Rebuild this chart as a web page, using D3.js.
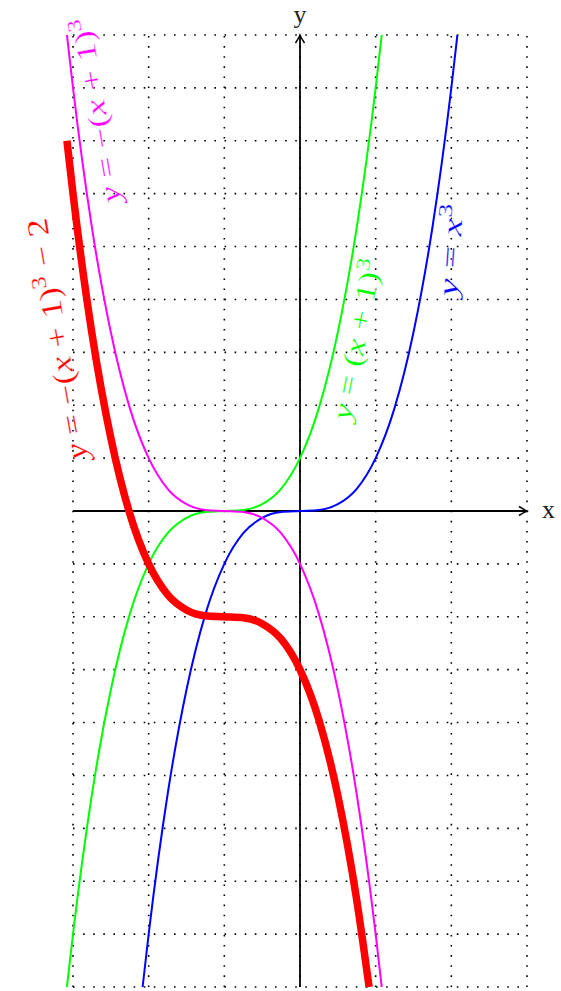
<!DOCTYPE html>
<html>
<head>
<meta charset="utf-8">
<script src="https://cdn.jsdelivr.net/npm/d3@7"></script>
<style>
  body { margin: 0; background: #fff; }
  svg { display: block; }
</style>
</head>
<body>
<div id="display"></div>
<script>
const w = 561;
const h = 991;

// grid lines (data units)
const xGrid = [-3, -2, -1, 0, 1, 2, 3];
const yGrid = [-9, -8, -7, -6, -5, -4, -3, -2, -1, 0, 1, 2, 3, 4, 5, 6, 7, 8, 9];

// y = x^3
const blueX = [-2.08, -2, -1.75, -1.5, -1.25, -1, -0.75, -0.5, -0.25, 0, 0.25, 0.5, 0.75, 1, 1.25, 1.5, 1.75, 2, 2.08];
const blueY = [-9, -8, -5.36, -3.38, -1.95, -1, -0.42, -0.13, -0.02, 0, 0.02, 0.13, 0.42, 1, 1.95, 3.38, 5.36, 8, 9];

// y = (x+1)^3
const greenX = [-3.08, -3, -2.75, -2.5, -2.25, -2, -1.75, -1.5, -1.25, -1, -0.75, -0.5, -0.25, 0, 0.25, 0.5, 0.75, 1, 1.08];
const greenY = [-9, -8, -5.36, -3.38, -1.95, -1, -0.42, -0.13, -0.02, 0, 0.02, 0.13, 0.42, 1, 1.95, 3.38, 5.36, 8, 9];

// y = -(x+1)^3
const magentaX = [-3.08, -3, -2.75, -2.5, -2.25, -2, -1.75, -1.5, -1.25, -1, -0.75, -0.5, -0.25, 0, 0.25, 0.5, 0.75, 1, 1.08];
const magentaY = [9, 8, 5.36, 3.38, 1.95, 1, 0.42, 0.13, 0.02, 0, -0.02, -0.13, -0.42, -1, -1.95, -3.38, -5.36, -8, -9];

// y = -(x+1)^3 - 2
const redX = [-3.08, -3, -2.75, -2.5, -2.25, -2, -1.75, -1.5, -1.25, -1, -0.75, -0.5, -0.25, 0, 0.25, 0.5, 0.75, 0.913];
const redY = [7, 6, 3.36, 1.38, -0.05, -1, -1.58, -1.87, -1.98, -2, -2.02, -2.13, -2.42, -3, -3.95, -5.38, -7.36, -9];

const series = [
    { xs: blueX, ys: blueY, color: '#0000ff', width: 2 },
    { xs: greenX, ys: greenY, color: '#00ff00', width: 2 },
    { xs: magentaX, ys: magentaY, color: '#ff00ff', width: 2 },
    { xs: redX, ys: redY, color: '#ff0000', width: 7.5 }
];

// curve labels: parts = [text, italic?, superscript?]
const labels = [
    { parts: [['y', 1], [' = '], ['x', 1], ['3', 0, 1]], color: '#0000ff', x: 2.114, y: 4.92, angle: -86, size: 28, len: 92 },
    { parts: [['y', 1], [' = ('], ['x', 1], [' + 1)'], ['3', 0, 1]], color: '#00ff00', x: 0.87, y: 3.21, angle: -79, size: 28, len: 163 },
    { parts: [['y', 1], [' = −('], ['x', 1], [' + 1)'], ['3', 0, 1]], color: '#ff00ff', x: -2.569, y: 7.6, angle: -99.5, size: 28, len: 187 },
    { parts: [['y', 1], [' = −('], ['x', 1], [' + 1)'], ['3', 0, 1], [' − 2']], color: '#ff0000', x: -3.08, y: 3.28, angle: -99.8, size: 30, len: 245 }
];

const xScale = d3.scaleLinear().domain([-3, 3]).range([73, 527]);
const yScale = d3.scaleLinear().domain([-9, 9]).range([987, 35]);

const viz = d3.select('#display').append('svg')
    .attr('width', w)
    .attr('height', h);

viz.append('rect').attr('width', w).attr('height', h).attr('fill', '#fff');

// dotted grid
const grid = viz.append('g')
    .attr('stroke', '#000')
    .attr('stroke-width', 1.6)
    .attr('stroke-dasharray', '1.6 8.5');

grid.selectAll('.vgrid')
    .data(xGrid)
    .enter()
    .append('line')
    .attr('class', 'vgrid')
    .attr('x1', (d) => xScale(d))
    .attr('x2', (d) => xScale(d))
    .attr('y1', yScale(-9))
    .attr('y2', yScale(9));

grid.selectAll('.hgrid')
    .data(yGrid)
    .enter()
    .append('line')
    .attr('class', 'hgrid')
    .attr('x1', xScale(-3))
    .attr('x2', xScale(3))
    .attr('y1', (d) => yScale(d))
    .attr('y2', (d) => yScale(d));

// axes with arrow heads
const axes = viz.append('g')
    .attr('stroke', '#000')
    .attr('stroke-width', 1.8)
    .attr('fill', 'none');

axes.append('line')
    .attr('x1', xScale(-3)).attr('y1', yScale(0))
    .attr('x2', xScale(3)).attr('y2', yScale(0));
axes.append('line')
    .attr('x1', xScale(0)).attr('y1', yScale(-9))
    .attr('x2', xScale(0)).attr('y2', yScale(9));

const arrowHead = 'M-8,-4.5 Q-2.5,-1 0,0 Q-2.5,1 -8,4.5';
axes.append('path')
    .attr('d', arrowHead)
    .attr('stroke-width', 1.5)
    .attr('transform', `translate(${xScale(3)},${yScale(0)})`);
axes.append('path')
    .attr('d', arrowHead)
    .attr('stroke-width', 1.5)
    .attr('transform', `translate(${xScale(0)},${yScale(9)}) rotate(-90)`);

viz.append('text')
    .attr('x', xScale(3) + 15)
    .attr('y', yScale(0) + 7)
    .style('font-family', "'Liberation Serif', serif")
    .style('font-size', '26px')
    .style('fill', '#222')
    .text('x');

viz.append('text')
    .attr('x', xScale(0))
    .attr('y', yScale(9) - 12)
    .attr('text-anchor', 'middle')
    .style('font-family', "'Liberation Serif', serif")
    .style('font-size', '26px')
    .style('fill', '#222')
    .text('y');

// curves
const lineMaker = d3.line()
    .x((d) => xScale(d[0]))
    .y((d) => yScale(d[1]))
    .curve(d3.curveMonotoneX);

viz.append('g').selectAll('.curve')
    .data(series)
    .enter()
    .append('path')
    .attr('class', 'curve')
    .attr('d', (s) => lineMaker(s.xs.map((x, i) => [x, s.ys[i]])))
    .attr('fill', 'none')
    .attr('stroke', (s) => s.color)
    .attr('stroke-width', (s) => s.width);

// rotated curve labels
labels.forEach((l) => {
    const px = xScale(l.x);
    const py = yScale(l.y);
    const t = viz.append('text')
        .attr('text-anchor', 'middle')
        .style('font-family', "'Liberation Serif', serif")
        .style('font-size', `${l.size}px`)
        .style('fill', l.color)
        .style('stroke', '#fff')
        .style('stroke-width', 0.25)
        .attr('transform', `translate(${px},${py}) rotate(${l.angle})`);
    let raised = false;
    l.parts.forEach((p) => {
        const span = t.append('tspan')
            .attr('xml:space', 'preserve')
            .style('white-space', 'pre')
            .text(p[0]);
        if (p[1]) span.style('font-style', 'italic');
        if (p[2]) {
            span.style('font-size', `${l.size * 0.7}px`).attr('dy', -l.size * 0.38);
            raised = true;
        } else if (raised) {
            span.attr('dy', l.size * 0.38);
            raised = false;
        }
    });
    const natural = t.node().getComputedTextLength();
    t.attr('transform', `translate(${px},${py}) rotate(${l.angle}) scale(${l.len / natural},1)`);
});
</script>
</body>
</html>
